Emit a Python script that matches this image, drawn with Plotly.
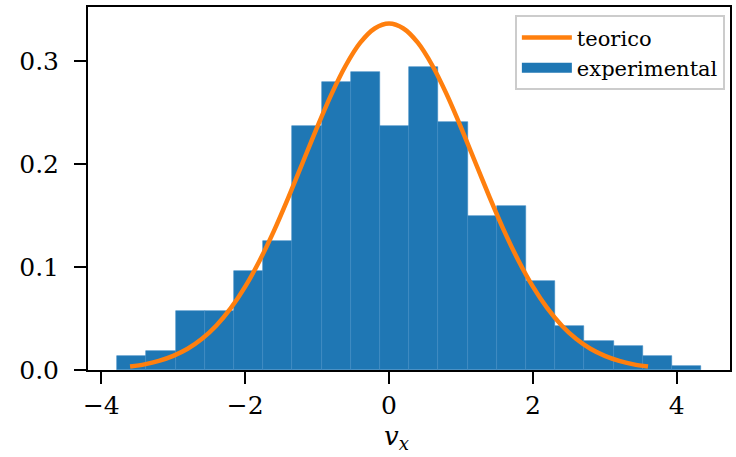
import plotly.graph_objects as go

# Histogram (density)
bin_edges = [-3.78, -3.374, -2.968, -2.562, -2.156, -1.75, -1.344, -0.938, -0.532,
             -0.126, 0.28, 0.686, 1.092, 1.498, 1.904, 2.31, 2.716, 3.122, 3.528,
             3.934, 4.34]
densities = [0.0136, 0.0188, 0.0573, 0.0573, 0.0961, 0.1252, 0.2366, 0.2803, 0.2900,
             0.2366, 0.2948, 0.2414, 0.1492, 0.1589, 0.0864, 0.0430, 0.0285, 0.0236,
             0.0136, 0.0039]

# Theoretical curve, points
curve_x = [-3.6, -3.4, -3.2, -3.0, -2.8, -2.6, -2.4, -2.2, -2.0, -1.8, -1.6, -1.4,
           -1.2, -1.0, -0.8, -0.6, -0.4, -0.2, 0.0, 0.2, 0.4, 0.6, 0.8, 1.0, 1.2,
           1.4, 1.6, 1.8, 2.0, 2.2, 2.4, 2.6, 2.8, 3.0, 3.2, 3.4, 3.6]
curve_y = [0.0033, 0.0055, 0.0088, 0.0137, 0.0206, 0.0303, 0.0433, 0.0601, 0.0810,
           0.1062, 0.1352, 0.1675, 0.2016, 0.2358, 0.2680, 0.2961, 0.3180, 0.3318,
           0.3366,
           0.3318, 0.3180, 0.2961, 0.2680, 0.2358, 0.2016, 0.1675, 0.1352, 0.1062,
           0.0810, 0.0601, 0.0433, 0.0303, 0.0206, 0.0137, 0.0088, 0.0055, 0.0033]

x_ticks = [-4, -2, 0, 2, 4]
y_ticks = [0.0, 0.1, 0.2, 0.3]
y_ticktext = ["0.0", "0.1", "0.2", "0.3"]
x_label = "<i>v</i><sub><i>x</i></sub>"

centers = [(a + b) / 2 for a, b in zip(bin_edges[:-1], bin_edges[1:])]
widths = [b - a for a, b in zip(bin_edges[:-1], bin_edges[1:])]

FONT = "DejaVu Serif"
BLUE = "#1f77b4"
ORANGE = "#ff7f0e"

fig = go.Figure()
fig.add_trace(go.Bar(
    x=centers, y=densities, width=widths, name="experimental",
    marker=dict(color=BLUE, line=dict(color="#3d8ac3", width=0.6)),
    showlegend=False, legendgroup="exp",
))
fig.add_trace(go.Scatter(
    x=curve_x, y=curve_y, mode="lines", name="teorico",
    line=dict(color=ORANGE, width=4.5, shape="spline", smoothing=0.8),
    legendrank=1,
))
# legend patch for the histogram (wide rectangle, as in the reference)
fig.add_trace(go.Scatter(
    x=[None], y=[None], mode="lines", name="experimental",
    line=dict(color=BLUE, width=14), legendgroup="exp", legendrank=2,
))

axis_common = dict(
    showline=True, linecolor="black", linewidth=2, mirror=True,
    ticks="outside", ticklen=12, tickwidth=2, tickcolor="black",
    showgrid=False, zeroline=False, automargin=False,
    tickfont=dict(family=FONT, size=25, color="black"),
)

fig.update_layout(
    width=736, height=457,
    margin=dict(l=88, r=6, t=7, b=87),
    plot_bgcolor="white", paper_bgcolor="white",
    bargap=0,
    xaxis=dict(range=[-4.185, 4.74], tickvals=x_ticks, **axis_common),
    yaxis=dict(range=[0, 0.3527], tickvals=y_ticks, ticktext=y_ticktext,
               ticklabelstandoff=10, **axis_common),
    legend=dict(
        x=0.992, y=0.977, xanchor="right", yanchor="top",
        bgcolor="white", bordercolor="#cccccc", borderwidth=2,
        font=dict(family=FONT, size=21, color="black"),
        itemwidth=50, tracegroupgap=0,
    ),
    showlegend=True,
    annotations=[dict(
        text=x_label, x=0.1, xref="x", y=-0.185, yref="paper",
        xanchor="center", yanchor="middle", showarrow=False,
        font=dict(family=FONT, size=26, color="black"),
    )],
)

fig.write_html("out.html")
